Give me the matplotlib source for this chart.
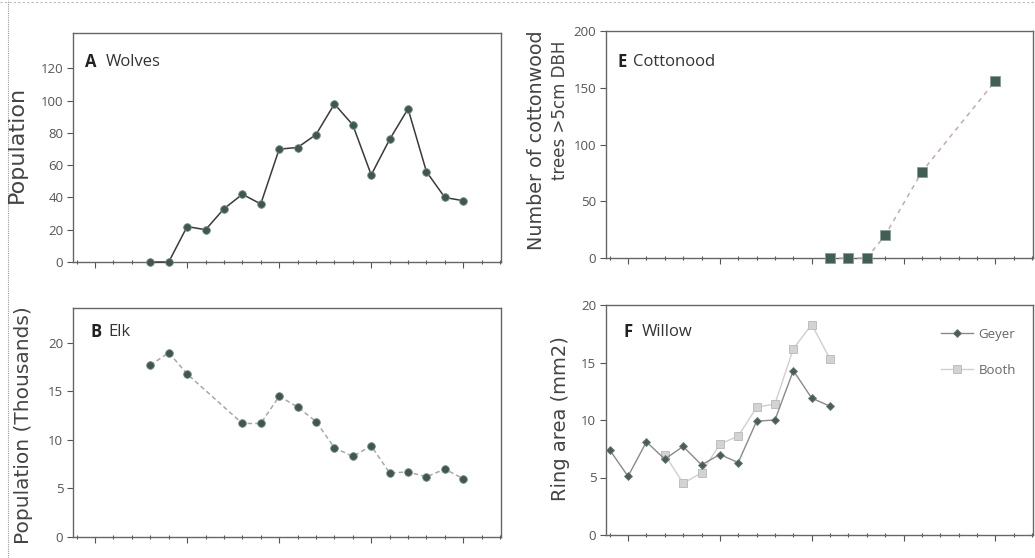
import matplotlib
matplotlib.use("Agg")
import matplotlib.pyplot as plt
from matplotlib.ticker import MultipleLocator, NullFormatter, FixedLocator
from matplotlib.lines import Line2D

plt.rcParams['font.family'] = ['Open Sans', 'DejaVu Sans']

# ---- data ----
wolf_years = list(range(1993, 2011))
wolf_pop = [0, 0, 22, 20, 33, 42, 36, 70, 71, 79, 98, 85, 54, 76, 95, 56, 40, 38]

elk_years = [1993, 1994, 1995, 1998, 1999, 2000, 2001, 2002, 2003, 2004, 2005,
             2006, 2007, 2008, 2009, 2010]
elk_pop = [17.7, 19.0, 16.8, 11.7, 11.7, 14.5, 13.4, 11.9, 9.2, 8.3, 9.4,
           6.6, 6.7, 6.2, 7.0, 6.0]

cot_years = [2001, 2002, 2003, 2004, 2006, 2010]
cot_count = [0, 0, 0, 20, 76, 156]

geyer_years = list(range(1989, 2002))
geyer_area = [7.4, 5.1, 8.1, 6.6, 7.7, 6.1, 7.0, 6.3, 9.9, 10.0, 14.3, 11.9, 11.2]
booth_years = list(range(1992, 2002))
booth_area = [7.0, 4.5, 5.4, 7.9, 8.6, 11.1, 11.4, 16.2, 18.3, 15.3]

wolf_ticks = [0, 20, 40, 60, 80, 100, 120]
elk_ticks = [0, 5, 10, 15, 20]
cot_ticks = [0, 50, 100, 150, 200]
willow_ticks = [0, 5, 10, 15, 20]

W, H = 1035, 558
fig = plt.figure(figsize=(W / 100, H / 100), dpi=100)

def rect(l, t, r, b):
    return [l / W, 1 - b / H, (r - l) / W, (b - t) / H]

def fx(x):
    return x / W

def fy(y):
    return 1 - y / H

axA = fig.add_axes(rect(73, 33, 501, 262))
axB = fig.add_axes(rect(73, 308, 501, 537))
axE = fig.add_axes(rect(606, 31, 1033, 258))
axF = fig.add_axes(rect(606, 305, 1033, 535))

mk = '#3c5850'
tick_c = '#555555'
lab_c = '#444444'
for ax in (axA, axB, axE, axF):
    ax.set_xlim(1988.8, 2012.05)
    ax.xaxis.set_major_locator(MultipleLocator(5))
    ax.xaxis.set_minor_locator(MultipleLocator(1))
    ax.xaxis.set_major_formatter(NullFormatter())
    for s in ax.spines.values():
        s.set_color('#666666')
        s.set_linewidth(1.0)
    ax.tick_params(axis='both', which='major', direction='out', length=4,
                   width=0.8, color='#555555', labelsize=9.5, labelcolor=tick_c, pad=3)
    ax.tick_params(axis='x', which='minor', direction='inout', length=3, width=0.8,
                   color='#555555')

def panel_label(ax, letter, name, xl, xn, y):
    ax.text(xl, y, letter, transform=ax.transAxes, fontsize=12, fontweight='bold',
            color='#222222', va='center')
    ax.text(xn, y, name, transform=ax.transAxes, fontsize=12,
            color='#333333', va='center')

def vlabel(x, y, s, size):
    fig.text(fx(x), fy(y), s, rotation=90, ha='center', va='center',
             fontsize=size, color=lab_c, family='DejaVu Sans')

# A Wolves
axA.plot(wolf_years, wolf_pop, '-', color='#3a3a3a', lw=1.1, marker='o',
         ms=5.5, mfc=mk, mec='#7a8a85', mew=0.6, clip_on=False, zorder=3)
axA.set_ylim(0, 142)
axA.yaxis.set_major_locator(FixedLocator(wolf_ticks))
panel_label(axA, 'A', 'Wolves', 0.028, 0.077, 0.873)
vlabel(17, 144, 'Population', 16)

# B Elk
axB.plot(elk_years, elk_pop, '--', color='#a8a8a8', lw=1.1, dashes=(3, 2),
         marker='o', ms=5.5, mfc=mk, mec='#7a8a85', mew=0.6)
axB.set_ylim(0, 23.6)
axB.yaxis.set_major_locator(FixedLocator(elk_ticks))
panel_label(axB, 'B', 'Elk', 0.04, 0.082, 0.895)
vlabel(23.5, 425, 'Population (Thousands)', 14.5)

# E Cottonwood
axE.plot(cot_years, cot_count, '--', color='#c4a9b2', lw=1.1, dashes=(3, 3),
         marker='s', ms=6.5, mfc='#3f5f57', mec='#8a9a95', mew=0.6,
         clip_on=False, zorder=3)
axE.set_ylim(0, 200)
axE.yaxis.set_major_locator(FixedLocator(cot_ticks))
panel_label(axE, 'E', 'Cottonood', 0.026, 0.063, 0.863)
vlabel(537, 140, 'Number of cottonwood', 13.8)
vlabel(560, 110, 'trees >5cm DBH', 12)

# F Willow
axF.plot(booth_years, booth_area, '-', color='#cfcfcf', lw=1.0, marker='s',
         ms=5.5, mfc='#d3d3d3', mec='#b8b8b8', mew=0.6, label='Booth', zorder=2)
axF.plot(geyer_years, geyer_area, '-', color='#8a8a8a', lw=1.0, marker='D',
         ms=4.2, mfc='#4a5e58', mec='#6a7a75', mew=0.6, label='Geyer', zorder=3,
         clip_on=False)
axF.set_ylim(0, 20)
axF.yaxis.set_major_locator(FixedLocator(willow_ticks))
panel_label(axF, 'F', 'Willow', 0.04, 0.084, 0.883)
vlabel(561, 419, 'Ring area (mm2)', 14)
h, l = axF.get_legend_handles_labels()
axF.legend(h[::-1], l[::-1], loc='upper right', frameon=False, fontsize=9.5,
           handlelength=2.4, handletextpad=0.4, labelspacing=1.75,
           borderaxespad=0, borderpad=0, bbox_to_anchor=(0.96, 0.90),
           labelcolor='#666666')

# scan border lines
fig.add_artist(Line2D([8 / W, 8 / W], [0, 1], color='#9a9a9a', lw=0.8,
                      linestyle=(0, (1, 1)), transform=fig.transFigure))
fig.add_artist(Line2D([0, 1], [1 - 2 / H, 1 - 2 / H], color='#bbbbbb', lw=0.8,
                      linestyle=(0, (2, 2)), transform=fig.transFigure))

fig.savefig('out.png', dpi=100)
